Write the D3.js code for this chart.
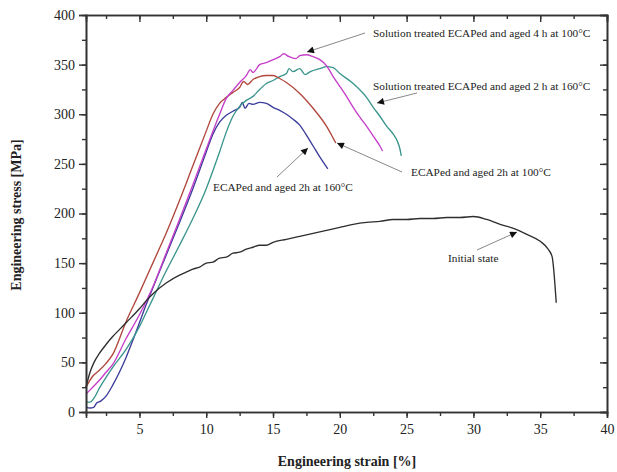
<!DOCTYPE html>
<html>
<head>
<meta charset="utf-8">
<script src="https://cdn.jsdelivr.net/npm/d3@7"></script>
<style>
body { margin: 0; background: #fff; }
svg { font-family: "Liberation Serif", "DejaVu Serif", serif; }
</style>
</head>
<body>
<svg width="617" height="472"></svg>
<script>
// strain [%], stress [MPa]
var initialState = [[1,25],[1.3,40],[1.6,50],[2,59],[2.5,68],[3,76],[3.5,83],[4,90],[5,104],[5.5,112],[6,119],[7,130],[8,138],[8.5,141],[9,144],[9.5,146],[10,150],[10.5,151],[11,155],[11.5,156],[12,160],[12.5,161],[13,164],[13.5,166],[14,168],[14.5,168],[15,171],[16,174],[17,177],[18,180],[19,183],[20,186],[21,189],[22,191],[23,192],[24,194],[25,194],[26,195],[27,195],[28,196],[29,196],[30,197],[31,194],[32,189],[33,185],[34,179],[35,172],[35.6,164],[35.9,156],[36.0,145],[36.2,110]];
var ecap2h100 = [[1,25],[1.5,36],[2,42],[2.5,49],[3,58],[4,91],[5,120],[6,150],[7,180],[8,213],[9,248],[10,283],[10.5,300],[11,311],[11.5,317],[12,322],[12.5,327],[12.8,333],[13.1,330],[13.5,335],[14,338],[14.5,339],[15,339],[15.5,336],[16,332],[17,321],[18,306],[19,288],[19.5,276],[19.7,271]];
var sol4h100 = [[1,18],[1.5,25],[2,32],[2.5,40],[3,48],[4,74],[5,98],[6,126],[7,160],[8,194],[9,229],[10,265],[11,300],[11.5,316],[12,324],[12.5,332],[13,339],[13.3,345],[13.5,342],[14,350],[14.5,352],[15,355],[15.5,358],[15.8,361],[16.2,358],[16.7,356],[17,359],[17.5,360],[18,358],[18.5,355],[19,349],[19.5,338],[20,328],[20.5,318],[21,307],[21.5,297],[22,288],[22.5,278],[23,268],[23.2,263]];
var ecap2h160 = [[1,5],[1.3,4],[1.6,5],[1.8,9],[2.1,11],[2.5,16],[3,27],[3.5,40],[4,55],[4.5,72],[5,90],[5.5,108],[6,125],[7,158],[8,191],[9,225],[10,262],[10.5,280],[11,292],[11.5,299],[12,303],[12.5,307],[12.7,312],[12.9,306],[13.2,311],[13.5,310],[14,312],[14.5,311],[15,307],[15.5,304],[16,300],[16.5,295],[17,289],[17.5,279],[18,268],[18.5,257],[19.1,245]];
var sol2h160 = [[1,10],[1.3,10],[1.6,14],[2,24],[2.5,35],[3,45],[4,63],[5,86],[5.5,100],[6,114],[7,142],[8,168],[9,195],[10,225],[10.5,243],[11,262],[11.5,282],[12,298],[12.5,308],[13,314],[13.5,318],[14,325],[14.5,331],[15,334],[15.5,338],[16,341],[16.2,346],[16.5,343],[17,346],[17.4,340],[17.8,343],[18.5,346],[19,348],[19.5,347],[20,341],[21,331],[22,317],[22.5,307],[23,298],[23.5,288],[24,280],[24.3,273],[24.5,265],[24.6,258]];

var xTicks = [5,10,15,20,25,30,35,40];
var yTicks = [0,50,100,150,200,250,300,350,400];

var svg = d3.select('svg');
var x = d3.scaleLinear().domain([1,40]).range([86,607]);
var y = d3.scaleLinear().domain([0,400]).range([412,15]);

var line = d3.line().curve(d3.curveMonotoneX)
  .x(function(d){ return x(d[0]); }).y(function(d){ return y(d[1]); });

var series = [
  {data: ecap2h160, color: '#3c3c9c'},
  {data: sol2h160, color: '#3a958c'},
  {data: ecap2h100, color: '#b0463c'},
  {data: sol4h100, color: '#c53ec8'},
  {data: initialState, color: '#2e2e2e'}
];
series.forEach(function(s){
  svg.append('path').attr('d', line(s.data)).attr('fill','none')
    .attr('stroke', s.color).attr('stroke-width', 1.35).attr('stroke-linejoin','round');
});

// axes
var minorX = d3.range(2.5, 40, 2.5);
var minorY = d3.range(25, 400, 25);

svg.append('g').attr('transform','translate(0,412)')
  .call(d3.axisBottom(x).tickValues(minorX).tickSize(4).tickFormat(''));
svg.append('g').attr('transform','translate(0,412)')
  .call(d3.axisBottom(x).tickValues(xTicks).tickSize(6).tickPadding(6).tickFormat(d3.format('d')));

svg.append('g').attr('transform','translate(86,0)')
  .call(d3.axisLeft(y).tickValues(minorY).tickSize(4).tickFormat(''));
svg.append('g').attr('transform','translate(86,0)')
  .call(d3.axisLeft(y).tickValues(yTicks).tickSize(7).tickPadding(4).tickFormat(d3.format('d')));

svg.append('g').attr('transform','translate(0,15)')
  .call(d3.axisTop(x).tickValues(minorX).tickSize(-4).tickFormat(''));
svg.append('g').attr('transform','translate(0,15)')
  .call(d3.axisTop(x).tickValues(xTicks).tickSize(-7).tickFormat(''));

svg.append('g').attr('transform','translate(607,0)')
  .call(d3.axisRight(y).tickValues(minorY).tickSize(-4).tickFormat(''));
svg.append('g').attr('transform','translate(607,0)')
  .call(d3.axisRight(y).tickValues(yTicks).tickSize(-7).tickFormat(''));

svg.selectAll('.domain').attr('stroke','#333').attr('stroke-width',1.6);
svg.selectAll('.tick line').attr('stroke','#333').attr('stroke-width',1.4);
svg.selectAll('.tick text').attr('font-family','Liberation Serif, serif').attr('font-size',14).attr('fill','#222');

// axis titles
svg.append('text').attr('x',347).attr('y',466).attr('text-anchor','middle')
  .attr('font-size',14).attr('font-weight','bold').attr('fill','#222').text('Engineering strain [%]');
svg.append('text').attr('transform','translate(21,215) rotate(-90)').attr('text-anchor','middle')
  .attr('font-size',14).attr('font-weight','bold').attr('fill','#222').text('Engineering stress [MPa]');

// annotations
svg.append('defs').append('marker').attr('id','ah').attr('viewBox','0 0 10 10')
  .attr('refX',10).attr('refY',5).attr('markerWidth',9).attr('markerHeight',7)
  .attr('markerUnits','userSpaceOnUse').attr('orient','auto')
  .append('path').attr('d','M0,0L10,5L0,10z').attr('fill','#111');

var notes = [
  {t:'Solution treated ECAPed and aged 4 h at 100\u00B0C', tx:373, ty:37, x1:365, y1:33, x2:307, y2:52},
  {t:'Solution treated ECAPed and aged 2 h at 160\u00B0C', tx:373, ty:90, x1:417, y1:93, x2:377, y2:103},
  {t:'ECAPed and aged 2h at 100\u00B0C', tx:411, ty:176, x1:402, y1:172, x2:337, y2:143},
  {t:'ECAPed and aged 2h at 160\u00B0C', tx:213, ty:191, x1:277, y1:177, x2:308, y2:148},
  {t:'Initial state', tx:448, ty:262, x1:477, y1:250, x2:517, y2:232}
];
notes.forEach(function(n){
  svg.append('line').attr('x1',n.x1).attr('y1',n.y1).attr('x2',n.x2).attr('y2',n.y2)
    .attr('stroke','#888').attr('stroke-width',1).attr('marker-end','url(#ah)');
  svg.append('text').attr('x',n.tx).attr('y',n.ty).attr('font-size',11.3).attr('fill','#222').text(n.t);
});
</script>
</body>
</html>
